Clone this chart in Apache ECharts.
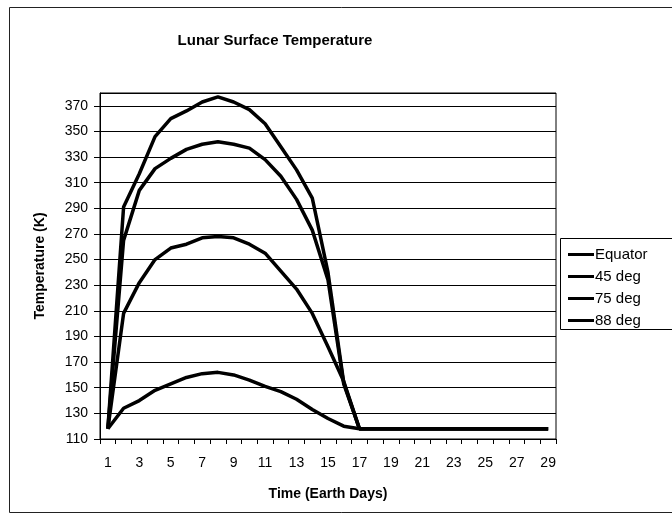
<!DOCTYPE html>
<html>
<head>
<meta charset="utf-8">
<script src="https://cdn.jsdelivr.net/npm/echarts@6/dist/echarts.min.js"></script>
<style>
  html, body { margin: 0; padding: 0; background: #fff; }
  #chart { width: 672px; height: 524px; }
</style>
</head>
<body>
<div id="chart"></div>
<script>
// Time axis (Earth days)
const days = ['1', '2', '3', '4', '5', '6', '7', '8', '9', '10', '11', '12', '13', '14', '15',
    '16', '17', '18', '19', '20', '21', '22', '23', '24', '25', '26', '27', '28', '29'];

// Temperatures (K)
const equator = [118, 291, 317, 346, 360, 366, 373, 377, 373, 367, 356, 338, 320, 298, 240,
    154, 118, 118, 118, 118, 118, 118, 118, 118, 118, 118, 118, 118, 118];
const deg45 = [118, 265, 304, 321, 329, 336, 340, 342, 340, 337, 328, 315, 297, 273, 234,
    153, 118, 118, 118, 118, 118, 118, 118, 118, 118, 118, 118, 118, 118];
const deg75 = [118, 208, 232, 250, 259, 262, 267, 268, 267, 262, 255, 241, 227, 208, 182,
    155, 118, 118, 118, 118, 118, 118, 118, 118, 118, 118, 118, 118, 118];
const deg88 = [118, 134, 140, 148, 153, 158, 161, 162, 160, 156, 151, 147, 141, 133, 126,
    120, 118, 118, 118, 118, 118, 118, 118, 118, 118, 118, 118, 118, 118];

const seriesNames = ['Equator', '45 deg', '75 deg', '88 deg'];
const seriesData = [equator, deg45, deg75, deg88];

const font = 'Liberation Sans, Arial, sans-serif';

const chart = echarts.init(document.getElementById('chart'));
chart.setOption({
    animation: false,
    textStyle: { fontFamily: font, color: '#000' },
    title: {
        text: 'Lunar Surface Temperature',
        left: 270,
        top: 28,
        textAlign: 'center',
        textStyle: { fontFamily: font, fontSize: 15, fontWeight: 'bold', color: '#000' }
    },
    graphic: [
        // outer chart frame
        { type: 'rect', shape: { x: 9.5, y: 7.5, width: 700, height: 505 },
          style: { fill: 'none', stroke: '#222', lineWidth: 1 }, z: -1 },
        // legend frame
        { type: 'rect', shape: { x: 560.5, y: 238.5, width: 200, height: 91 },
          style: { fill: '#fff', stroke: '#000', lineWidth: 1 }, z: 0 }
    ],
    legend: {
        orient: 'vertical',
        left: 563,
        top: 242,
        itemGap: 7,
        itemWidth: 26,
        itemHeight: 3,
        icon: 'rect',
        z: 10,
        textStyle: { fontFamily: font, fontSize: 15, color: '#000', padding: [0, 0, 0, -4] },
        data: seriesNames
    },
    grid: {
        left: 100,
        top: 93,
        width: 456,
        height: 346,
        show: true,
        borderColor: '#000',
        borderWidth: 1
    },
    xAxis: {
        type: 'category',
        data: days,
        boundaryGap: true,
        name: 'Time (Earth Days)',
        nameLocation: 'middle',
        nameGap: 48,
        nameTextStyle: { fontFamily: font, fontSize: 14, fontWeight: 'bold', color: '#000' },
        axisLine: { lineStyle: { color: '#000', width: 1 } },
        axisTick: { show: true, interval: 0, length: 5, lineStyle: { color: '#000' } },
        axisLabel: { interval: 1, margin: 17, fontSize: 14, color: '#000', fontFamily: font }
    },
    yAxis: {
        type: 'value',
        min: 110,
        max: 380,
        interval: 20,
        name: 'Temperature (K)',
        nameLocation: 'middle',
        nameGap: 53,
        nameTextStyle: { fontFamily: font, fontSize: 14, fontWeight: 'bold', color: '#000' },
        axisLine: { show: true, lineStyle: { color: '#000', width: 1 } },
        axisTick: { show: true, length: 6, lineStyle: { color: '#000' } },
        axisLabel: { showMaxLabel: false, margin: 12, fontSize: 14, color: '#000', fontFamily: font },
        splitLine: { show: true, lineStyle: { color: '#000', width: 1 } }
    },
    series: seriesNames.map((name, i) => ({
        name: name,
        type: 'line',
        data: seriesData[i],
        symbol: 'none',
        smooth: false,
        itemStyle: { color: '#000' },
        lineStyle: { color: '#000', width: 3.5 }
    }))
});
</script>
</body>
</html>
